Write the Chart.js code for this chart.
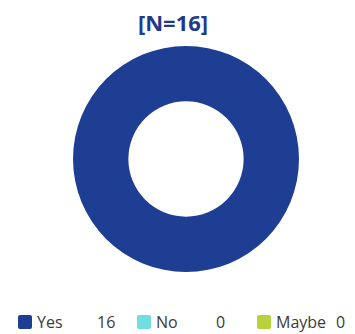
<!DOCTYPE html>
<html>
<head>
<meta charset="utf-8">
<script src="https://cdn.jsdelivr.net/npm/chart.js@4/dist/chart.umd.min.js"></script>
<style>
  body { margin: 0; background: #fff; }
  #wrap { position: relative; width: 355px; height: 334px; overflow: hidden; }
  #titre {
    position: absolute; top: 7px; left: 0; width: 346px; text-align: center;
    font-family: 'Open Sans', sans-serif; font-weight: 700; font-size: 22px; color: #1f3a8a;
  }
  #zone { position: absolute; top: 0; left: 0; width: 355px; height: 290px; }
  #legende { position: absolute; top: 311px; left: 0; width: 355px; height: 22px; }
  .item { position: absolute; top: 0; display: flex; align-items: center;
    font-family: 'Open Sans', sans-serif; font-size: 16px; color: #3a3a3a; }
  .carre { width: 14px; height: 14px; border-radius: 2px; margin-right: 5px; }
  .nom { width: 60px; }
</style>
</head>
<body>
<div id="wrap">
  <div id="titre"></div>
  <div id="zone"><canvas id="donut"></canvas></div>
  <div id="legende"></div>
</div>
<script>
  var titre = '[N=16]';
  var categories = ['Yes', 'No', 'Maybe'];
  var valeurs = [16, 0, 0];
  var couleurs = ['#1d3e93', '#70dde0', '#b8d23c'];
  var positionsLegende = [18, 137, 257];

  document.getElementById('titre').innerText = titre;

  // legende avec la valeur de chaque categorie
  var legende = document.getElementById('legende');
  categories.forEach(function(cat, i) {
    var item = document.createElement('div');
    item.className = 'item';
    item.style.left = positionsLegende[i] + 'px';
    item.innerHTML = '<span class="carre" style="background:' + couleurs[i] + '"></span>'
      + '<span class="nom">' + cat + '</span><span>' + valeurs[i] + '</span>';
    legende.appendChild(item);
  });

  var ctx = document.getElementById('donut').getContext('2d');
  var donut = new Chart(ctx, {
    type: 'doughnut',
    data: {
      labels: categories,
      datasets: [{
        data: valeurs,
        backgroundColor: couleurs,
        borderWidth: 0
      }]
    },
    options: {
      responsive: true,
      maintainAspectRatio: false,
      animation: false,
      cutout: '51%',
      layout: { padding: { top: 46, bottom: 18, left: 73, right: 56 } },
      plugins: {
        legend: { display: false },
        tooltip: { enabled: false }
      }
    }
  });
</script>
</body>
</html>
